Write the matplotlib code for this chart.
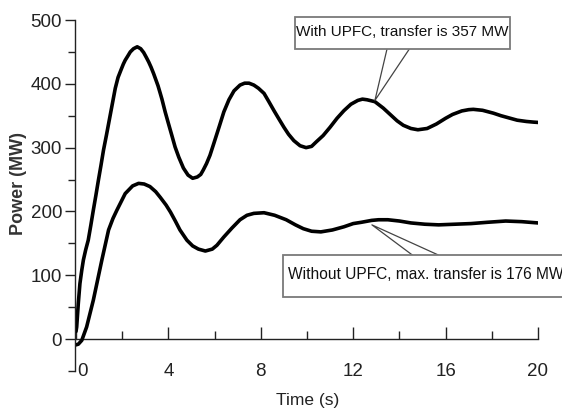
import matplotlib
matplotlib.use("Agg")
import matplotlib.pyplot as plt
import matplotlib.transforms as mtransforms
from matplotlib.patches import Rectangle
from matplotlib.ticker import MultipleLocator

# ---- data ----
t_upfc = [0, 0.03, 0.1, 0.17, 0.25, 0.32, 0.42, 0.53, 0.64, 0.75, 0.86, 0.97, 1.08,
          1.19, 1.32, 1.45, 1.58, 1.7, 1.82, 1.95, 2.05, 2.13, 2.25, 2.35, 2.49,
          2.65, 2.8, 2.93, 3.05, 3.15, 3.25, 3.36, 3.46, 3.55, 3.64, 3.72, 3.86,
          4.0, 4.15, 4.29, 4.45, 4.65, 4.85, 5.05, 5.25, 5.4, 5.51, 5.65, 5.8, 5.97,
          6.2, 6.4, 6.62, 6.84, 7.1, 7.3, 7.49, 7.7, 7.9, 8.14, 8.35, 8.57, 8.8,
          9.0, 9.2, 9.43, 9.7, 9.96, 10.2, 10.4, 10.7, 11.0, 11.3, 11.6, 11.9,
          12.2, 12.4, 12.6, 12.94, 13.3, 13.6, 13.9, 14.17, 14.5, 14.8, 15.2,
          15.6, 16.0, 16.3, 16.7, 17.0, 17.2, 17.6, 18.07, 18.4, 18.8, 19.1, 19.5,
          19.8, 20.0]
p_upfc = [12, 19, 56, 87, 108, 124, 140, 155, 178, 202, 225, 249, 272,
          296, 320, 345, 370, 393, 410, 422, 431, 437, 444, 450, 455,
          458, 455, 449, 441, 434, 426, 416, 406, 397, 386, 376, 356,
          338, 319, 301, 285, 268, 257, 252, 254, 258, 265, 275, 288, 307,
          333, 356, 375, 389, 398, 401, 401, 398, 393, 385, 372, 358, 344,
          332, 321, 311, 303, 300, 302, 309, 319, 332, 346, 358, 368,
          374, 376, 375, 372, 362, 352, 342, 335, 330, 328, 330,
          337, 346, 352, 357.5, 359.5, 360, 358.5, 354, 350, 346, 343, 341,
          340, 339.5]

t_base = [0, 0.1, 0.25, 0.46, 0.75, 1.12, 1.41, 1.6, 1.77, 2.13, 2.45, 2.71, 2.95,
          3.2, 3.45, 3.65, 3.9, 4.09, 4.3, 4.5, 4.8, 5.05, 5.3, 5.6, 5.9, 6.1, 6.4,
          6.75, 7.1, 7.4, 7.7, 8.14, 8.6, 9.1, 9.5, 9.84, 10.2, 10.6, 11.1, 11.6,
          12.0, 12.35, 12.8, 13.1, 13.5, 14.0, 14.5, 15.1, 15.7, 16.4, 17.1, 17.8,
          18.6, 19.3, 20.0]
p_base = [-9, -8, -2, 19, 61, 124, 171, 189, 202, 228, 240, 244, 243,
          239, 231, 222, 210, 199, 185, 171, 155, 146, 141, 138, 141, 147, 160,
          174, 187, 194, 197, 198, 194, 187, 179, 173, 169, 168, 171, 176,
          181, 183, 186, 187, 187, 185, 182, 180, 179, 180, 181, 183,
          185, 184, 182]

x_ticks = [0, 4, 8, 12, 16, 20]
y_ticks = [0, 100, 200, 300, 400, 500]

label_upfc = "With UPFC, transfer is 357 MW"
label_base = "Without UPFC, max. transfer is 176 MW"

plt.rcParams["font.family"] = ["Liberation Sans", "DejaVu Sans"]

fig = plt.figure(figsize=(5.62, 4.12), dpi=100)
ax = fig.add_axes([76 / 562, 41 / 412, 462 / 562, 351 / 412])

ax.plot(t_upfc, p_upfc, color="black", lw=2.6, solid_capstyle="round",
        solid_joinstyle="round", zorder=3)
ax.plot(t_base, p_base, color="black", lw=2.6, solid_capstyle="round",
        solid_joinstyle="round", zorder=3)

ax.set_xlim(0, 20)
ax.set_ylim(-50, 500)

for s in ("top", "right"):
    ax.spines[s].set_visible(False)
ax.spines["bottom"].set_position(("data", 0))
ax.spines["bottom"].set_bounds(0, 20)
ax.spines["left"].set_bounds(-50, 500)
ax.spines["left"].set_position(("outward", 1))
for s in ("bottom", "left"):
    ax.spines[s].set_linewidth(1.0)
    ax.spines[s].set_color("#222222")

ax.set_xticks(x_ticks)
ax.set_yticks(y_ticks)
ax.xaxis.set_minor_locator(MultipleLocator(2))
ax.yaxis.set_minor_locator(MultipleLocator(50))
ax.tick_params(axis="x", which="major", direction="in", length=9, width=1.0,
               pad=17, labelsize=13.5, colors="#222222")
ax.tick_params(axis="x", which="minor", direction="in", length=5.5, width=1.0,
               colors="#222222")
ax.tick_params(axis="y", which="major", direction="out", length=7, width=1.0,
               pad=2, labelsize=13.5, colors="#222222")
ax.tick_params(axis="y", which="minor", direction="out", length=5, width=1.0,
               colors="#222222")

# first x label sits a little right of the spine in the reference
first = ax.get_xticklabels()[0]
first.set_transform(first.get_transform() +
                    mtransforms.ScaledTranslation(6 / 100, 0, fig.dpi_scale_trans))

ax.set_xlabel("Time (s)", fontsize=12.5, color="#222222")
ax.xaxis.label.set_verticalalignment("center")
ax.xaxis.set_label_coords(0.502, -0.083)
ax.set_ylabel("Power (MW)", fontsize=13, fontweight="bold", color="#333333")
ax.yaxis.label.set_verticalalignment("center")
ax.yaxis.set_label_coords(-0.125, 0.535)

# callout wedges
ax.plot([13.46, 12.94, 14.42], [454, 374, 454], color="#444444", lw=0.9, zorder=4)
ax.plot([14.55, 12.81, 15.67], [132, 179, 132], color="#444444", lw=0.9, zorder=4)

# callout boxes
ax.add_patch(Rectangle((9.48, 454.5), 9.31, 50.2, fc="white", ec="#7a7a7a",
                       lw=1.3, zorder=5, clip_on=False))
ax.text(14.13, 481, label_upfc, ha="center", va="center", fontsize=11,
        color="#111111", zorder=6, clip_on=False)
ax.add_patch(Rectangle((8.96, 65.8), 13.0, 65.9, fc="white", ec="#7a7a7a",
                       lw=1.3, zorder=5, clip_on=False))
ax.text(9.17, 100.5, label_base, ha="left", va="center", fontsize=11.2,
        color="#111111", zorder=6, clip_on=False)

fig.savefig("out.png", dpi=100)
